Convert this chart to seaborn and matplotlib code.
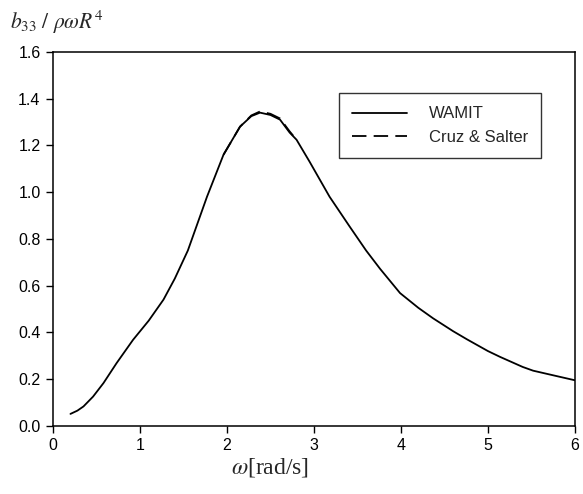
import matplotlib
matplotlib.use("Agg")
import matplotlib.pyplot as plt
import seaborn as sns
import pandas as pd
from matplotlib.lines import Line2D

omega = [0.2, 0.28, 0.35, 0.46, 0.58, 0.73, 0.92, 1.1, 1.27, 1.4, 1.55, 1.77, 1.96, 2.15, 2.28,
         2.38, 2.5, 2.61, 2.72, 2.8, 2.95, 3.18, 3.41, 3.6, 3.76, 3.99, 4.2, 4.37, 4.6, 4.76,
         5.0, 5.14, 5.4, 5.52, 5.8, 6.0]
wamit = [0.051, 0.065, 0.083, 0.125, 0.183, 0.268, 0.368, 0.45, 0.54, 0.63, 0.75, 0.98, 1.16,
         1.28, 1.325, 1.34, 1.33, 1.31, 1.255, 1.224, 1.13, 0.98, 0.853, 0.75, 0.672, 0.568,
         0.505, 0.46, 0.405, 0.37, 0.32, 0.295, 0.252, 0.236, 0.212, 0.195]
cruz_omega = [1.96, 2.15, 2.28, 2.38, 2.5, 2.61, 2.72, 2.8]
cruz = [1.16, 1.28, 1.328, 1.345, 1.335, 1.315, 1.26, 1.224]

sns.set_theme(style="ticks")
plt.rcParams['font.family'] = ['Liberation Sans', 'DejaVu Sans']
plt.rcParams['mathtext.fontset'] = 'stix'

fig = plt.figure(figsize=(5.83, 4.94), dpi=100)
ax = fig.add_axes([0.091, 0.138, 0.895, 0.757])

df1 = pd.DataFrame({"omega": omega, "b": wamit})
df2 = pd.DataFrame({"omega": cruz_omega, "b": cruz})
sns.lineplot(data=df1, x="omega", y="b", ax=ax, color="black", lw=1.3, legend=False)
sns.lineplot(data=df2, x="omega", y="b", ax=ax, color="black", lw=1.3, legend=False)
ax.lines[-1].set_dashes([8, 4])
for ln in ax.lines:
    ln.set_solid_joinstyle("round")

ax.set_xlim(0, 6)
ax.set_ylim(0, 1.6)
ax.set_xticks(range(0, 7))
yt = [0.0, 0.2, 0.4, 0.6, 0.8, 1.0, 1.2, 1.4, 1.6]
ax.set_yticks(yt)
ax.set_yticklabels([f"{v:.1f}" for v in yt])
ax.tick_params(direction="out", length=5, width=1, labelsize=11.5, colors="black", pad=4)
for s in ax.spines.values():
    s.set_linewidth(1.1)
    s.set_color("black")

ax.set_xlabel(r"$\omega$[rad/s]", fontsize=17, labelpad=8)
ax.xaxis.label.set_fontfamily("Liberation Serif")
ax.xaxis.set_label_coords(0.416, -0.08)
ax.set_ylabel("")
fig.text(0.017, 0.955, r"$b_{33}\ /\ \rho\omega R^{4}$", fontsize=15.5, ha="left", va="center")

handles = [Line2D([], [], color="black", lw=1.3),
           Line2D([], [], color="black", lw=1.3, dashes=[8, 4])]
leg = ax.legend(handles, ["WAMIT", "Cruz & Salter"], loc="upper right",
                bbox_to_anchor=(0.952, 0.912), frameon=True, fancybox=False,
                edgecolor="black", fontsize=12, handlelength=3.3, borderpad=0.8, labelspacing=0.5,
                handletextpad=1.3)
leg.get_frame().set_linewidth(1.0)

fig.savefig("out.png", dpi=100, facecolor="white")
